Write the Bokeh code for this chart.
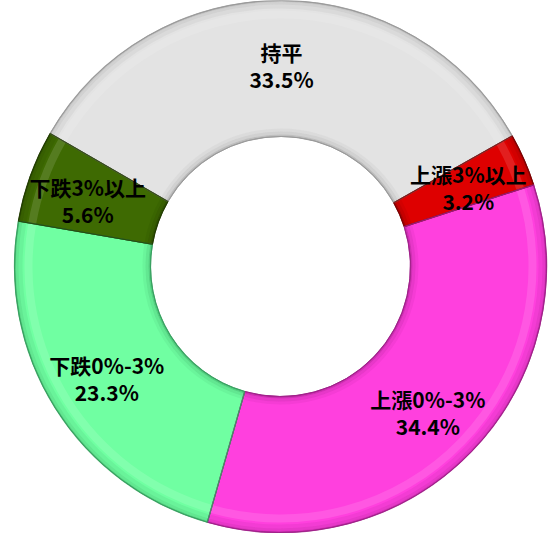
import math
from bokeh.plotting import figure
from bokeh.models import Range1d, ColumnDataSource
from bokeh.core.properties import value
from bokeh.embed import file_html
from bokeh.resources import INLINE

# ---- data (clockwise order starting from the top-left) ----
categories = ["持平", "上漲3%以上", "上漲0%-3%", "下跌0%-3%", "下跌3%以上"]
percents = [33.5, 3.2, 34.4, 23.3, 5.6]
pct_labels = ["33.5%", "3.2%", "34.4%", "23.3%", "5.6%"]

# ---- styles ----
colors = ["#E3E3E3", "#DE0000", "#FF40DE", "#70FFA2", "#3E6A02"]
edge_colors = ["#9A9A9A", "#7A0000", "#A0208A", "#38A060", "#223C00"]
start_deg = 150.0
r_in, r_out = 130, 266
label_r = 205

total = sum(percents)
starts, ends, mids = [], [], []
a = math.radians(start_deg)
for v in percents:
    span = 2 * math.pi * v / total
    starts.append(a - span)
    ends.append(a)
    mids.append(a - span / 2)
    a -= span

src = ColumnDataSource(dict(
    start=starts, end=ends, color=colors, edge=edge_colors,
    name=categories, pct=pct_labels,
    lx=[label_r * math.cos(m) for m in mids],
    ly=[label_r * math.sin(m) for m in mids],
))

p = figure(width=552, height=533, output_backend="svg", toolbar_location=None,
           x_range=Range1d(-280, 272), y_range=Range1d(-267, 266),
           min_border=0)
p.axis.visible = False
p.grid.visible = False
p.outline_line_color = None
p.background_fill_color = "white"
p.border_fill_color = "white"

# base ring
p.annular_wedge(x=0, y=0, inner_radius=r_in, outer_radius=r_out,
                start_angle="start", end_angle="end", fill_color="color",
                line_color="edge", line_width=1, source=src)

# bevel: darker rims at outer and inner edges
for (ri, ro, al) in [(258, 262, 0.12), (262, 264.5, 0.25), (264.5, 266, 0.45),
                     (r_in, r_in + 2, 0.5), (r_in + 2, r_in + 5, 0.25), (r_in + 5, r_in + 8, 0.1)]:
    p.annular_wedge(x=0, y=0, inner_radius=ri, outer_radius=ro,
                    start_angle="start", end_angle="end", fill_color="edge",
                    fill_alpha=al, line_color=None, source=src)
# subtle highlight band
p.annular_wedge(x=0, y=0, inner_radius=248, outer_radius=256,
                start_angle="start", end_angle="end", fill_color="white",
                fill_alpha=0.12, line_color=None, source=src)
# separators
p.annular_wedge(x=0, y=0, inner_radius=r_in, outer_radius=r_out,
                start_angle="start", end_angle="end", fill_color=None,
                line_color="edge", line_width=1.2, line_alpha=0.8, source=src)

font = value("'Noto Sans CJK TC', 'Noto Sans CJK SC', sans-serif")
p.text(x="lx", y="ly", text="name", source=src, text_font=font,
       text_font_style="bold", text_font_size="21px", text_color="black",
       text_align="center", text_baseline="middle", y_offset=-10)
p.text(x="lx", y="ly", text="pct", source=src, text_font=font,
       text_font_style="bold", text_font_size="21px", text_color="black",
       text_align="center", text_baseline="middle", y_offset=17)

open("out.html", "w").write(file_html(p, INLINE))
